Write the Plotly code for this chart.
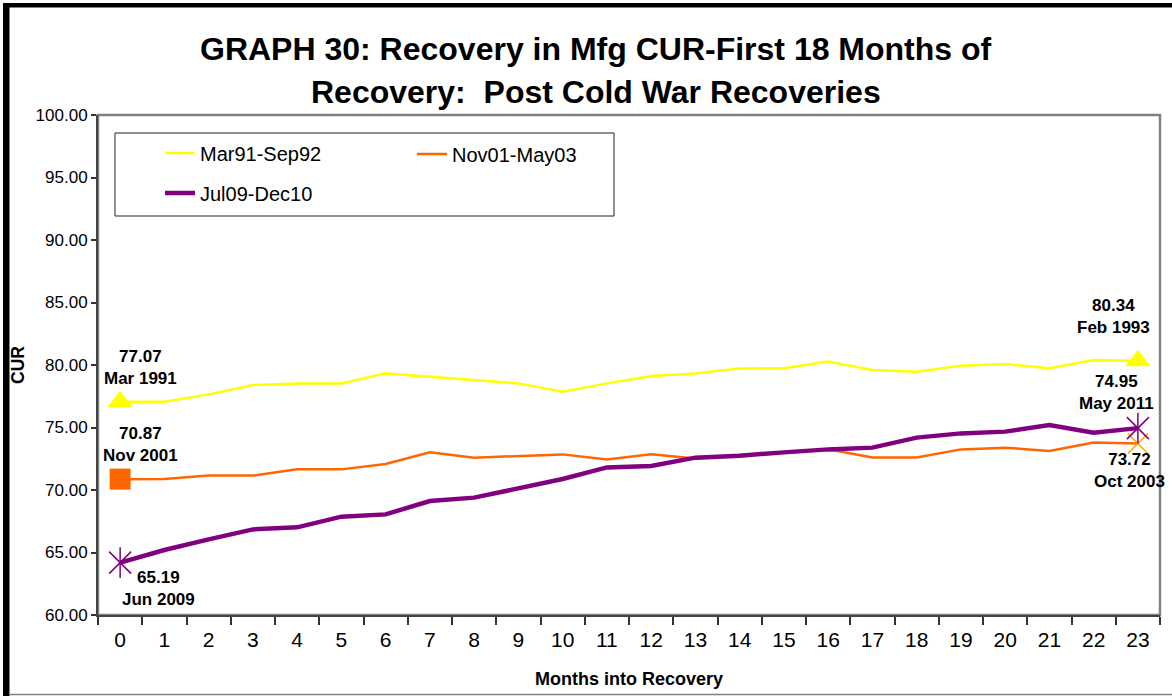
import plotly.graph_objects as go

# ---------------- data ----------------
months = list(range(24))
mar91_sep92 = [77.07, 77.07, 77.65, 78.40, 78.53, 78.53, 79.33, 79.07, 78.80, 78.53,
               77.87, 78.53, 79.12, 79.33, 79.73, 79.74, 80.27, 79.60, 79.47, 79.95,
               80.08, 79.74, 80.40, 80.34]
nov01_may03 = [70.87, 70.88, 71.15, 71.15, 71.65, 71.65, 72.08, 73.01, 72.59, 72.72,
               72.85, 72.45, 72.85, 72.53, 72.80, 72.98, 73.25, 72.60, 72.60, 73.25,
               73.39, 73.12, 73.79, 73.72]
jul09_dec10 = [64.19, 65.20, 66.05, 66.85, 67.01, 67.87, 68.05, 69.12, 69.39, 70.13,
               70.88, 71.81, 71.92, 72.59, 72.75, 73.01, 73.25, 73.39, 74.19, 74.53,
               74.67, 75.20, 74.59, 74.95]
series_names = ["Mar91-Sep92", "Nov01-May03", "Jul09-Dec10"]
start_labels = ["77.07<br>Mar 1991", "70.87<br>Nov 2001", "65.19<br>Jun 2009"]
end_labels = ["80.34<br>Feb 1993", "73.72<br>Oct 2003", "74.95<br>May 2011"]
y_ticks = [60, 65, 70, 75, 80, 85, 90, 95, 100]

FONT = "Liberation Sans, Arial, sans-serif"
YELLOW = "#FFFF00"
ORANGE = "#FF6600"
ORANGE_LT = "#FFA500"
PURPLE = "#800080"

W, H = 1172, 696
L, R, T, B = 98, 12, 115, 81
PW, PH = W - L - R, H - T - B


def px(x):
    return (x - L) / PW


def py(y):
    return (H - B - y) / PH


first, last = months[0], months[-1]

fig = go.Figure()
fig.add_trace(go.Scatter(x=months, y=mar91_sep92, mode="lines", name=series_names[0],
                         line=dict(color=YELLOW, width=2.5), legend="legend"))
fig.add_trace(go.Scatter(x=months, y=nov01_may03, mode="lines", name=series_names[1],
                         line=dict(color=ORANGE, width=2.5), legend="legend2"))
fig.add_trace(go.Scatter(x=months, y=jul09_dec10, mode="lines", name=series_names[2],
                         line=dict(color=PURPLE, width=4.5), legend="legend3"))

# end-point markers
fig.add_trace(go.Scatter(x=[first, last], y=[mar91_sep92[0], mar91_sep92[-1]], mode="markers",
                         marker=dict(symbol="triangle-up", size=22, color=YELLOW),
                         showlegend=False, hoverinfo="skip"))
fig.add_trace(go.Scatter(x=[first], y=[nov01_may03[0]], mode="markers",
                         marker=dict(symbol="square", size=21, color=ORANGE),
                         showlegend=False, hoverinfo="skip"))
fig.add_trace(go.Scatter(x=[last], y=[nov01_may03[-1]], mode="markers",
                         marker=dict(symbol="x-thin-open", size=20, color=ORANGE_LT,
                                     line=dict(color=ORANGE_LT, width=1.5)),
                         showlegend=False, hoverinfo="skip"))
for sym in ["x-thin-open", "line-ns-open"]:
    fig.add_trace(go.Scatter(x=[first, last], y=[jul09_dec10[0], jul09_dec10[-1]], mode="markers",
                             marker=dict(symbol=sym, size=22, color=PURPLE,
                                         line=dict(color=PURPLE, width=1.5)),
                             showlegend=False, hoverinfo="skip"))

# value labels
label_pos = [(0.45, 79.84), (0.46, 73.64), (0.87, 62.12)]
for txt, (lx, ly) in zip(start_labels, label_pos):
    fig.add_annotation(x=lx, y=ly, xref="x", yref="y", text="<b>" + txt + "</b>", showarrow=False,
                       xanchor="center", yanchor="middle",
                       font=dict(family=FONT, size=17, color="black"), align="center")
end_pos = [(22.44, 83.88), (22.80, 71.56), (22.52, 77.80)]
for txt, (lx, ly) in zip(end_labels, end_pos):
    fig.add_annotation(x=lx, y=ly, xref="x", yref="y", text="<b>" + txt + "</b>", showarrow=False,
                       xanchor="center", yanchor="middle",
                       font=dict(family=FONT, size=17, color="black"), align="center")

# title
fig.add_annotation(x=px(596), y=py(49), xref="paper", yref="paper", showarrow=False,
                   xanchor="center", yanchor="middle",
                   text="<b>GRAPH 30: Recovery in Mfg CUR-First 18 Months of</b>",
                   font=dict(family=FONT, size=32, color="black"))
fig.add_annotation(x=px(596), y=py(92), xref="paper", yref="paper", showarrow=False,
                   xanchor="center", yanchor="middle",
                   text="<b>Recovery:  Post Cold War Recoveries</b>",
                   font=dict(family=FONT, size=32, color="black"))

shapes = [
    # plot frame
    dict(type="rect", xref="paper", yref="paper", x0=0, x1=1, y0=0, y1=1,
         line=dict(color="#808080", width=2.5), layer="below"),
    # legend box
    dict(type="rect", xref="paper", yref="paper", x0=px(115), x1=px(614), y0=py(216), y1=py(133),
         line=dict(color="#222222", width=1), fillcolor="rgba(0,0,0,0)"),
    # outer border
    dict(type="rect", xref="paper", yref="paper", x0=px(3), x1=px(9.5), y0=py(696), y1=py(3),
         line=dict(width=0), fillcolor="black"),
    dict(type="rect", xref="paper", yref="paper", x0=px(3), x1=px(1172), y0=py(7.5), y1=py(3),
         line=dict(width=0), fillcolor="black"),
    dict(type="line", xref="paper", yref="paper", x0=px(9), x1=px(1172), y0=py(694.5), y1=py(694.5),
         line=dict(color="#808080", width=1.5)),
]

leg_common = dict(xanchor="left", yanchor="middle", bgcolor="rgba(0,0,0,0)", borderwidth=0,
                  font=dict(family=FONT, size=20, color="black"))

fig.update_layout(
    width=W, height=H,
    margin=dict(l=L, r=R, t=T, b=B, pad=0, autoexpand=False),
    paper_bgcolor="white", plot_bgcolor="white",
    font=dict(family=FONT, color="black"),
    shapes=shapes,
    legend=dict(x=px(160), y=py(153), **leg_common),
    legend2=dict(x=px(412), y=py(154), **leg_common),
    legend3=dict(x=px(160), y=py(193), **leg_common),
    xaxis=dict(type="category", range=[-0.5, 23.5], tickson="boundaries",
               ticks="outside", ticklen=8, tickwidth=1.5, tickcolor="#333333",
               showline=True, linecolor="#444444", linewidth=2, showgrid=False, zeroline=False,
               ticklabelstandoff=5, automargin=False,
               tickfont=dict(family=FONT, size=21, color="black"),
               title=dict(text="<b>Months into Recovery</b>", standoff=22,
                          font=dict(family=FONT, size=18, color="black"))),
    yaxis=dict(range=[60, 100], tickvals=y_ticks, tickformat=".2f",
               ticks="outside", ticklen=5, tickwidth=1.5, tickcolor="#333333",
               showline=True, linecolor="#444444", linewidth=2, showgrid=False, zeroline=False,
               automargin=False,
               tickfont=dict(family=FONT, size=17, color="black"),
               title=dict(text="<b>CUR</b>", standoff=6,
                          font=dict(family=FONT, size=17.5, color="black"))),
)

fig.write_html("out.html", config={"displayModeBar": False},
               post_script="document.body.style.margin='0px';")
